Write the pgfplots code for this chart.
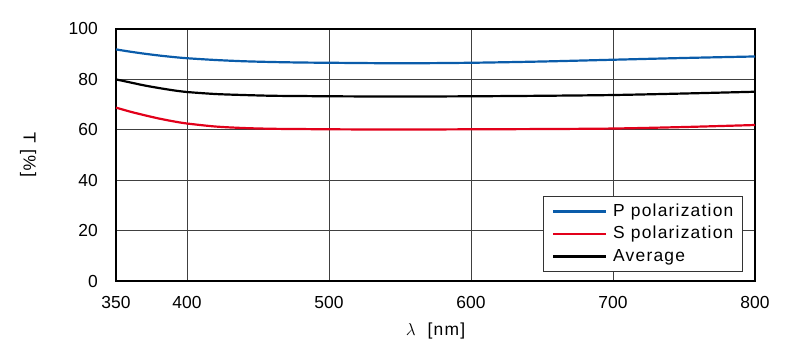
\documentclass[border=0pt]{standalone}
\usepackage{fontspec}
\setmainfont{Liberation Sans}
\newfontfamily\legfont[LetterSpace=7]{Liberation Sans}
\usepackage{pgfplots}
\pgfplotsset{compat=1.18}
\definecolor{pblue}{HTML}{0A5CAA}
\definecolor{sred}{HTML}{E2001A}
\begin{document}
\fontsize{17.5}{21}\selectfont
\begin{tikzpicture}
\begin{axis}[
  scale only axis, width=639bp, height=252bp,
  xmin=350, xmax=800, ymin=0, ymax=100,
  xtick={350,400,500,600,700,800},
  ytick={0,20,40,60,80,100},
  major tick length=0pt,
  grid=major,
  major grid style={draw=black!75, line width=0.7bp},
  axis line style={line width=1.3bp},
  /pgf/number format/assume math mode=true,
  /pgf/number format/1000 sep={},
  tick label style={font=\fontsize{17.5}{21}\selectfont},
  xticklabel style={anchor=center, inner sep=0pt, yshift=-21bp},
  yticklabel style={anchor=east, inner sep=0pt, xshift=-18bp},
  every axis y label/.style={at={(axis description cs:-0.1377,0.5)}, rotate=-90, anchor=center,
    font=\legfont\fontsize{17.5}{21}\selectfont},
  every axis x label/.style={at={(axis description cs:0.5,-0.198)}, anchor=center,
    font=\legfont\fontsize{17.5}{21}\selectfont},
  ylabel={T [\%]},
  xlabel={$\lambda$\hspace{12bp}[nm]},
  legend cell align=left,
  legend style={at={(axis description cs:0.981,0.036)}, anchor=south east,
    draw=black!80, line width=0.8bp, inner xsep=9bp, inner ysep=5.5bp,
    font=\legfont\fontsize{17.5}{21}\selectfont, row sep=3.5bp, column sep=6bp,
    nodes={inner sep=0pt, text height=14bp, text depth=5bp}},
  legend image code/.code={\draw[#1] (0bp,0bp) -- (53bp,0bp);},
]
\addplot[pblue, line width=2.2bp, smooth] coordinates {
(350,91.9) (360,91.0) (370,90.2) (380,89.5) (390,88.9) (400,88.4) (420,87.7) (440,87.2) (460,86.9) (480,86.7) (500,86.6) (550,86.4) (600,86.6) (650,87.1) (700,87.8) (750,88.5) (800,89.1)};
\addlegendentry{P polarization}
\addplot[sred, line width=2.2bp, smooth] coordinates {
(350,68.8) (360,67.2) (370,65.8) (380,64.5) (390,63.4) (400,62.5) (420,61.3) (440,60.7) (460,60.4) (480,60.3) (500,60.2) (550,60.1) (600,60.2) (650,60.3) (700,60.5) (750,61.1) (800,61.9)};
\addlegendentry{S polarization}
\addplot[black, line width=2.2bp, smooth] coordinates {
(350,80.0) (360,78.8) (370,77.6) (380,76.6) (390,75.7) (400,75.0) (420,74.2) (440,73.8) (460,73.5) (480,73.4) (500,73.3) (550,73.2) (600,73.3) (650,73.5) (700,73.8) (750,74.4) (800,75.1)};
\addlegendentry{Average}
\end{axis}
\path (-116bp,-79bp) rectangle (684bp,281bp);
\end{tikzpicture}
\end{document}
